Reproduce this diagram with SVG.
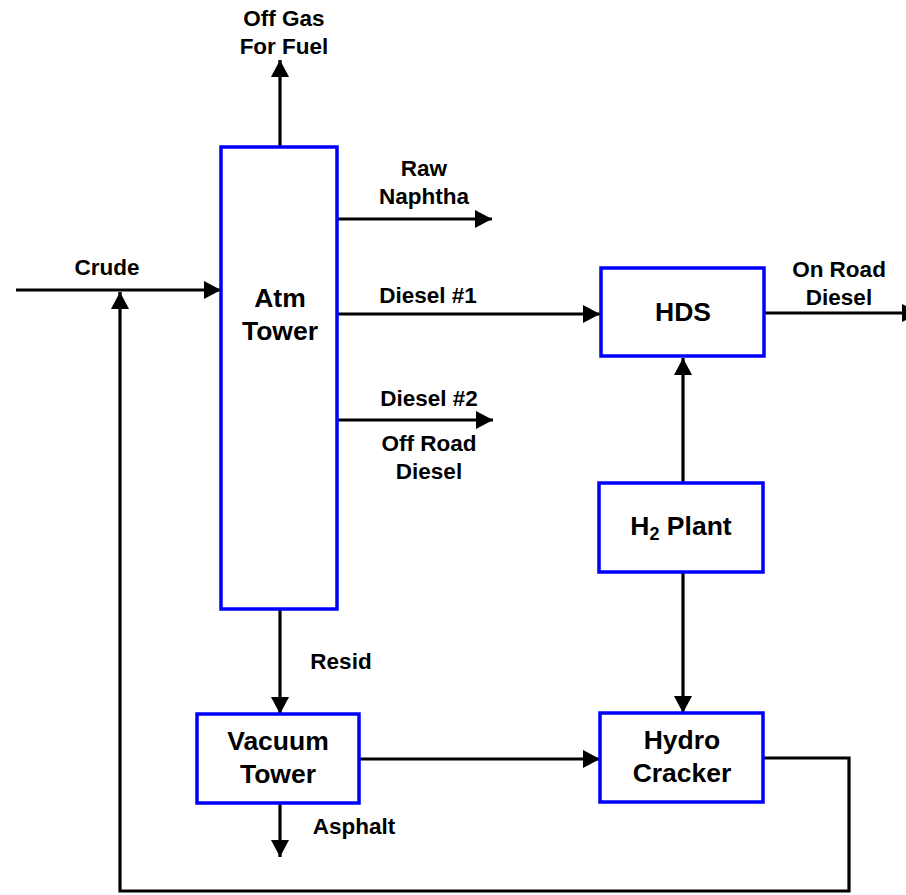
<svg xmlns="http://www.w3.org/2000/svg" width="906" height="895" viewBox="0 0 906 895">
<style>
.box{fill:#fff;stroke:#0000ff;stroke-width:3.5}
.ln{fill:none;stroke:#000;stroke-width:3.2}
.lbl{font-family:"Liberation Sans",Arial,sans-serif;font-weight:bold;font-size:22.5px;fill:#000;text-anchor:middle}
.bt{font-family:"Liberation Sans",Arial,sans-serif;font-weight:bold;font-size:26.5px;fill:#000;text-anchor:middle}
</style>
<defs>
<marker id="ah" markerUnits="userSpaceOnUse" markerWidth="18" markerHeight="18" refX="17" refY="9" orient="auto" viewBox="0 0 18 18">
<path d="M0,0 L17,9 L0,18 z" fill="#000"/>
</marker>
</defs>
<rect width="906" height="895" fill="#fff"/>
<g id="connectors">
<line class="ln" x1="280" y1="147" x2="280" y2="60" marker-end="url(#ah)"/>
<line class="ln" x1="16" y1="290" x2="221" y2="290" marker-end="url(#ah)"/>
<line class="ln" x1="337" y1="219" x2="492" y2="219" marker-end="url(#ah)"/>
<line class="ln" x1="337" y1="314" x2="600" y2="314" marker-end="url(#ah)"/>
<line class="ln" x1="337" y1="420" x2="493" y2="420" marker-end="url(#ah)"/>
<line class="ln" x1="764" y1="313" x2="919" y2="313" marker-end="url(#ah)"/>
<line class="ln" x1="683" y1="483" x2="683" y2="358" marker-end="url(#ah)"/>
<line class="ln" x1="683" y1="573" x2="683" y2="713" marker-end="url(#ah)"/>
<line class="ln" x1="280" y1="609" x2="280" y2="714" marker-end="url(#ah)"/>
<line class="ln" x1="280" y1="803" x2="280" y2="857" marker-end="url(#ah)"/>
<line class="ln" x1="360" y1="759" x2="600" y2="759" marker-end="url(#ah)"/>
<polyline class="ln" points="763,758 849,758 849,891 120,891 120,292" marker-end="url(#ah)"/>
</g>
<g id="atm-tower">
<rect class="box" x="221" y="147" width="116" height="462"/>
<text class="bt" x="280" y="307">Atm</text>
<text class="bt" x="280" y="340">Tower</text>
</g>
<g id="hds">
<rect class="box" x="601" y="268" width="163" height="88"/>
<text class="bt" x="683" y="321">HDS</text>
</g>
<g id="h2-plant">
<rect class="box" x="599" y="483" width="164" height="89"/>
<text class="bt" x="681" y="535">H<tspan font-size="18" dy="5">2</tspan><tspan dy="-5"> Plant</tspan></text>
</g>
<g id="vacuum-tower">
<rect class="box" x="197" y="714" width="162" height="89"/>
<text class="bt" x="278" y="750">Vacuum</text>
<text class="bt" x="278" y="783">Tower</text>
</g>
<g id="hydro-cracker">
<rect class="box" x="600" y="713" width="163" height="89"/>
<text class="bt" x="682" y="749">Hydro</text>
<text class="bt" x="682" y="782">Cracker</text>
</g>
<g id="labels">
<text class="lbl" x="284" y="26">Off Gas</text>
<text class="lbl" x="284" y="54">For Fuel</text>
<text class="lbl" x="424" y="176">Raw</text>
<text class="lbl" x="424" y="204">Naphtha</text>
<text class="lbl" x="107" y="275">Crude</text>
<text class="lbl" x="428" y="303">Diesel #1</text>
<text class="lbl" x="839" y="277">On Road</text>
<text class="lbl" x="839" y="305">Diesel</text>
<text class="lbl" x="429" y="406">Diesel #2</text>
<text class="lbl" x="429" y="451">Off Road</text>
<text class="lbl" x="429" y="479">Diesel</text>
<text class="lbl" x="341" y="669">Resid</text>
<text class="lbl" x="354" y="834">Asphalt</text>
</g>
</svg>
